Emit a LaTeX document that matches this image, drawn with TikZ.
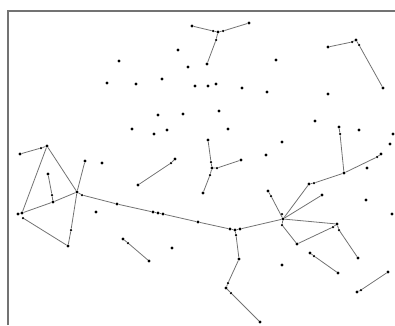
\documentclass[tikz,border=0pt]{standalone}
\begin{document}
\begin{tikzpicture}[x=1pt,y=-1pt,
  dot/.style={circle,fill=black,inner sep=0pt,minimum size=3.1pt},
  sdot/.style={circle,fill=black,inner sep=0pt,minimum size=2.5pt},
  link/.style={draw=black!55,line width=0.8pt},
  frame/.style={draw=black!55,line width=1.6pt}]
\useasboundingbox (0,0) rectangle (395,325);
\coordinate (fa) at (8,325);
\coordinate (fb) at (8,11);
\coordinate (fc) at (395,11);
\draw[frame] (fa) -- (fb) -- (fc);
% isolated points
\foreach \x/\y [count=\i] in {178/50,119/61,188/67,276/60,107/83,136/84,162/79,195/86,208/86,216/84,242/88,267/92,328/94,158/115,183/114,132/129,154/134,167/130,219/111,228/129,266/155,282/142,315/121,359/130,393/134,390/144,367/168,102/163,96/212,172/248,282/265,366/200,392/214}
  \node[dot] (i\i) at (\x,\y) {};
% top star
\node[dot] (s1) at (192,26) {};
\node[sdot] (s2) at (213,31) {};
\node[dot] (sc) at (218,32) {};
\node[sdot] (s3) at (223,31) {};
\node[dot] (s4) at (249,23) {};
\node[sdot] (s5) at (216,40) {};
\node[dot] (s6) at (207,64) {};
\draw[link] (s1) -- (s2) -- (sc);
\draw[link] (s4) -- (s3) -- (sc);
\draw[link] (s6) -- (s5) -- (sc);
% top right
\node[dot] (r1) at (328,47) {};
\node[sdot] (r2) at (352,42) {};
\node[dot] (r3) at (356,40) {};
\node[sdot] (r4) at (359,45) {};
\node[dot] (r5) at (383,88) {};
\draw[link] (r1) -- (r2) -- (r3) -- (r4) -- (r5);
% pairs
\node[dot] (p1) at (138,185) {};
\node[sdot] (p2) at (171,163) {};
\node[dot] (p3) at (175,159) {};
\draw[link] (p1) -- (p2) -- (p3);
\node[dot] (q1) at (123,239) {};
\node[sdot] (q2) at (128,243) {};
\node[dot] (q3) at (149,261) {};
\draw[link] (q1) -- (q2) -- (q3);
\node[dot] (t1) at (310,253) {};
\node[sdot] (t2) at (314,256) {};
\node[dot] (t3) at (338,273) {};
\draw[link] (t1) -- (t2) -- (t3);
\node[dot] (u1) at (357,292) {};
\node[sdot] (u2) at (361,290) {};
\node[dot] (u3) at (388,272) {};
\draw[link] (u1) -- (u2) -- (u3);
% middle Y
\node[dot] (m1) at (208,140) {};
\node[sdot] (m2) at (211,162) {};
\node[dot] (mc) at (212,168) {};
\node[sdot] (m3) at (217,168) {};
\node[dot] (m4) at (241,160) {};
\node[sdot] (m5) at (210,175) {};
\node[dot] (m6) at (203,193) {};
\draw[link] (m1) -- (m2) -- (mc);
\draw[link] (m4) -- (m3) -- (mc);
\draw[link] (m6) -- (m5) -- (mc);
% left structure
\node[dot] (L1) at (20,154) {};
\node[sdot] (L2) at (41,148) {};
\node[dot] (L3) at (47,146) {};
\node[dot] (L4) at (48,174) {};
\node[sdot] (L5) at (52,195) {};
\node[dot] (L6) at (53,202) {};
\node[dot] (L7) at (85,161) {};
\node[dot] (H) at (77,192) {};
\node[sdot] (Hb) at (82,195) {};
\node[dot] (B1) at (18,214) {};
\node[dot] (B2) at (22,213) {};
\node[sdot] (B3) at (23,218) {};
\node[dot] (B4) at (68,246) {};
\node[sdot] (B5) at (71,230) {};
\draw[link] (L1) -- (L2) -- (L3);
\draw[link] (L3) -- (H);
\draw[link] (L7) -- (H);
\draw[link] (L3) -- (B2);
\draw[link] (B1) -- (B2);
\draw[link] (B2) -- (L6) -- (H);
\draw[link] (L4) -- (L5) -- (L6);
\draw[link] (B3) -- (B4);
\draw[link] (H) -- (B5) -- (B4);
% central chain
\node[dot] (c1) at (117,204) {};
\node[dot] (c2) at (153,212) {};
\node[dot] (c3) at (158,213) {};
\node[dot] (c4) at (163,214) {};
\node[dot] (c5) at (198,222) {};
\node[dot] (c6) at (230,229) {};
\node[dot] (cc) at (235,230) {};
\node[dot] (c7) at (240,229) {};
\node[dot] (K) at (283,219) {};
\draw[link] (H) -- (Hb) -- (c1) -- (c2) -- (c3) -- (c4) -- (c5) -- (c6) -- (cc) -- (c7) -- (K);
% down chain
\node[sdot] (d1) at (236,235) {};
\node[dot] (d2) at (239,259) {};
\node[sdot] (d3) at (228,283) {};
\node[dot] (d4) at (226,288) {};
\node[sdot] (d5) at (231,293) {};
\node[dot] (d6) at (260,322) {};
\draw[link] (cc) -- (d1) -- (d2) -- (d3) -- (d4) -- (d5) -- (d6);
% right hub
\node[sdot] (Ka) at (282,214) {};
\node[sdot] (Kb) at (282,225) {};
\node[sdot] (e1) at (271,196) {};
\node[dot] (e2) at (268,191) {};
\draw[link] (K) -- (e1) -- (e2);
\node[dot] (f1) at (309,184) {};
\node[sdot] (f2) at (314,183) {};
\node[dot] (f3) at (344,173) {};
\node[sdot] (g1) at (340,134) {};
\node[dot] (g2) at (339,127) {};
\node[sdot] (g3) at (377,157) {};
\node[dot] (g4) at (381,154) {};
\draw[link] (K) -- (f1) -- (f2) -- (f3);
\draw[link] (f3) -- (g1) -- (g2);
\draw[link] (f3) -- (g3) -- (g4);
\node[dot] (h1) at (322,195) {};
\draw[link] (K) -- (h1);
\node[dot] (n1) at (297,244) {};
\node[sdot] (n2) at (333,227) {};
\node[dot] (n3) at (337,224) {};
\node[sdot] (n4) at (339,230) {};
\node[dot] (n5) at (358,258) {};
\draw[link] (K) -- (Kb) -- (n1) -- (n2) -- (n3);
\draw[link] (K) -- (n3);
\draw[link] (n3) -- (n4) -- (n5);
\end{tikzpicture}
\end{document}
